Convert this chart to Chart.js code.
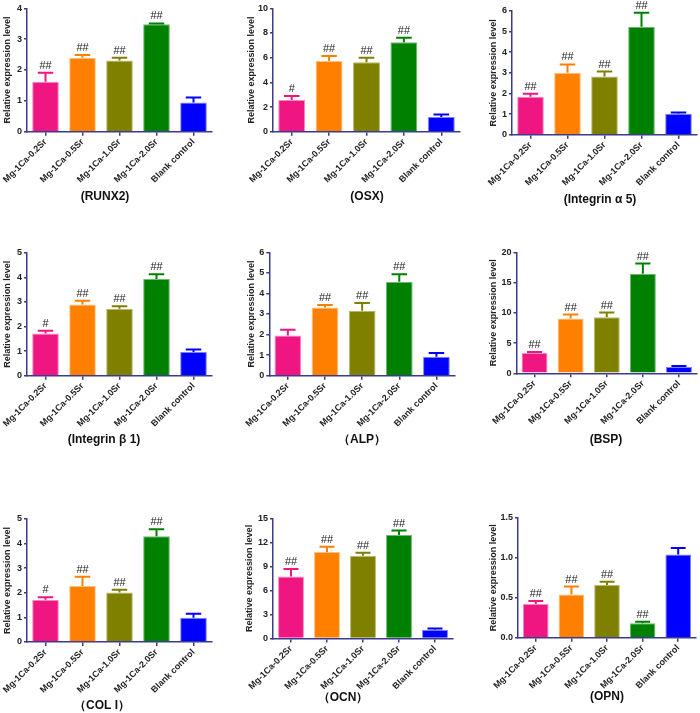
<!DOCTYPE html>
<html><head><meta charset="utf-8">
<script src="https://cdn.jsdelivr.net/npm/chart.js@4/dist/chart.umd.min.js"></script>
<style>
html,body{margin:0;padding:0;background:#fff;}
body{width:700px;height:713px;position:relative;overflow:hidden;}
canvas{position:absolute;}
</style></head><body>
<script>
// ---------- data ----------
const categories = ['Mg-1Ca-0.2Sr', 'Mg-1Ca-0.5Sr', 'Mg-1Ca-1.0Sr', 'Mg-1Ca-2.0Sr', 'Blank control'];
const yAxisTitle = 'Relative expression level';

const runx2Values = [1.62, 2.40, 2.31, 3.48, 0.95];
const runx2Errors = [0.29, 0.09, 0.09, 0.03, 0.16];
const runx2Marks  = ['##', '##', '##', '##', ''];

const osxValues = [2.57, 5.73, 5.62, 7.24, 1.19];
const osxErrors = [0.32, 0.41, 0.38, 0.38, 0.21];
const osxMarks  = ['#', '##', '##', '##', ''];

const itga5Values = [1.84, 3.01, 2.82, 5.24, 1.02];
const itga5Errors = [0.15, 0.40, 0.24, 0.68, 0.06];
const itga5Marks  = ['##', '##', '##', '##', ''];

const itgb1Values = [1.72, 2.89, 2.72, 3.93, 0.96];
const itgb1Errors = [0.11, 0.16, 0.10, 0.19, 0.11];
const itgb1Marks  = ['#', '##', '##', '##', ''];

const alpValues = [1.95, 3.31, 3.16, 4.57, 0.92];
const alpErrors = [0.29, 0.13, 0.37, 0.36, 0.18];
const alpMarks  = ['', '##', '##', '##', ''];

const bspValues = [3.36, 9.04, 9.26, 16.47, 1.05];
const bspErrors = [0.15, 0.66, 0.77, 1.66, 0.15];
const bspMarks  = ['##', '##', '##', '##', ''];

const col1Values = [1.72, 2.28, 2.01, 4.30, 0.99];
const col1Errors = [0.10, 0.37, 0.11, 0.28, 0.16];
const col1Marks  = ['#', '##', '##', '##', ''];

const ocnValues = [7.73, 10.79, 10.33, 12.93, 1.08];
const ocnErrors = [0.95, 0.66, 0.37, 0.54, 0.17];
const ocnMarks  = ['##', '##', '##', '##', ''];

const opnValues = [0.42, 0.54, 0.66, 0.18, 1.04];
const opnErrors = [0.04, 0.10, 0.04, 0.02, 0.08];
const opnMarks  = ['##', '##', '##', '##', ''];

const panelTitles = ['(RUNX2)', '(OSX)', '(Integrin α 5)', '(Integrin β 1)', '（ALP）', '(BSP)', '（COL I）', '（OCN）', '(OPN)'];
const yMaxes = [4, 10, 6, 5, 6, 20, 5, 15, 1.5];
const ySteps = [1, 2, 1, 1, 1, 5, 1, 3, 0.5];

// ---------- styles / layout ----------
const barColors = ['#F01682', '#FF8000', '#808000', '#008000', '#0000FF'];
const barEdges  = ['#F78BBE', '#FFC080', '#B8B870', '#70B870', '#8080FF'];
const AX = '#3A3A8E';
const FONT = "'Liberation Sans', Arial, sans-serif";

const layouts = [
  {left:0,   top:0,   h:230, axisX:27,    right:212, topY:8.3,   zeroY:131.7, capX:105, capY:197},
  {left:244, top:0,   h:230, axisX:273,   right:460, topY:8.3,   zeroY:131.7, capX:367, capY:197},
  {left:486, top:0,   h:230, axisX:512,   right:697, topY:11,    zeroY:134.7, capX:600, capY:200},
  {left:0,   top:230, h:230, axisX:27,    right:212, topY:252.7, zeroY:375.7, capX:104, capY:440},
  {left:244, top:230, h:230, axisX:269.3, right:455, topY:252.3, zeroY:375.7, capX:362, capY:440},
  {left:486, top:230, h:230, axisX:516.5, right:697, topY:252.3, zeroY:373.3, capX:606, capY:440},
  {left:0,   top:460, h:253, axisX:27,    right:212, topY:519,   zeroY:642,   capX:102, capY:706},
  {left:242, top:460, h:253, axisX:273,   right:453, topY:518.3, zeroY:638.5, capX:343, capY:698},
  {left:486, top:460, h:253, axisX:518,   right:696, topY:517.7, zeroY:637.7, capX:607, capY:697}
];

const panelData = [
  [runx2Values, runx2Errors, runx2Marks],
  [osxValues, osxErrors, osxMarks],
  [itga5Values, itga5Errors, itga5Marks],
  [itgb1Values, itgb1Errors, itgb1Marks],
  [alpValues, alpErrors, alpMarks],
  [bspValues, bspErrors, bspMarks],
  [col1Values, col1Errors, col1Marks],
  [ocnValues, ocnErrors, ocnMarks],
  [opnValues, opnErrors, opnMarks]
];

function makePanel(idx) {
  const [values, errors, marks] = panelData[idx];
  const L = layouts[idx];
  const yMax = yMaxes[idx], yStep = ySteps[idx];
  const decimals = yStep < 1 ? 1 : 0;
  const c = document.createElement('canvas');
  const w = Math.round(L.right - L.left + 3);
  const h = L.h;
  c.width = w; c.height = h;
  c.style.left = L.left + 'px'; c.style.top = L.top + 'px';
  c.style.width = w + 'px'; c.style.height = h + 'px';
  document.body.appendChild(c);
  const XH = 55;
  const errPlugin = {
    id: 'errbars' + idx,
    afterDatasetsDraw(chart) {
      const ctx = chart.ctx;
      const meta = chart.getDatasetMeta(0);
      const ys = chart.scales.y;
      ctx.save();
      meta.data.forEach((bar, i) => {
        const v = values[i], e = errors[i];
        const x = bar.x;
        const y0 = ys.getPixelForValue(v);
        const y1 = ys.getPixelForValue(v + e);
        const capW = bar.width * 0.29;
        ctx.strokeStyle = barColors[i];
        ctx.lineWidth = 2;
        ctx.beginPath();
        ctx.moveTo(x, y0); ctx.lineTo(x, y1);
        ctx.moveTo(x - capW, y1); ctx.lineTo(x + capW, y1);
        ctx.stroke();
        if (marks[i]) {
          ctx.fillStyle = '#222';
          ctx.font = '11px ' + FONT;
          ctx.textAlign = 'center';
          ctx.textBaseline = 'alphabetic';
          ctx.fillText(marks[i], x, y1 - 4);
        }
      });
      ctx.fillStyle = '#111';
      ctx.font = 'bold 12px ' + FONT;
      ctx.textAlign = 'center';
      ctx.textBaseline = 'middle';
      ctx.fillText(panelTitles[idx], L.capX - L.left, L.capY - L.top);
      ctx.restore();
    }
  };
  new Chart(c, {
    type: 'bar',
    data: {
      labels: categories,
      datasets: [{
        data: values,
        backgroundColor: barColors,
        borderColor: barEdges,
        borderWidth: 1,
        barPercentage: 0.72,
        categoryPercentage: 1
      }]
    },
    options: {
      responsive: false,
      animation: false,
      layout: {padding: {
        top: L.topY - L.top,
        left: 0,
        right: w - (L.right - L.left),
        bottom: h - (L.zeroY - L.top) - XH
      }},
      plugins: {legend: {display: false}, tooltip: {enabled: false}, title: {display: false}},
      scales: {
        x: {
          offset: true,
          grid: {display: true, offset: false, drawOnChartArea: false, drawTicks: true, tickLength: 4, color: AX, lineWidth: 1.5},
          border: {display: true, color: AX, width: 1.5},
          ticks: {autoSkip: false, minRotation: 45, maxRotation: 45, padding: 1, color: '#222',
                  font: {family: FONT, size: 9, weight: 'bold'}},
          afterFit(s) { s.height = XH; s.paddingLeft = 0; s.paddingRight = 0; }
        },
        y: {
          min: 0, max: yMax,
          ticks: {stepSize: yStep, padding: 2, color: '#222', font: {family: FONT, size: 9, weight: 'bold'},
                  callback: v => Number(v).toFixed(decimals)},
          grid: {drawOnChartArea: false, drawTicks: true, tickLength: 3, color: AX, lineWidth: 1.5},
          border: {display: true, color: AX, width: 1.5},
          title: {display: true, text: yAxisTitle, color: '#222',
                  font: {family: FONT, size: 9, weight: 'bold'}, padding: {top: 2, bottom: 0}},
          afterFit(s) { s.width = L.axisX - L.left; }
        }
      }
    },
    plugins: [errPlugin]
  });
}

for (let i = 0; i < 9; i++) makePanel(i);
</script>
</body></html>
